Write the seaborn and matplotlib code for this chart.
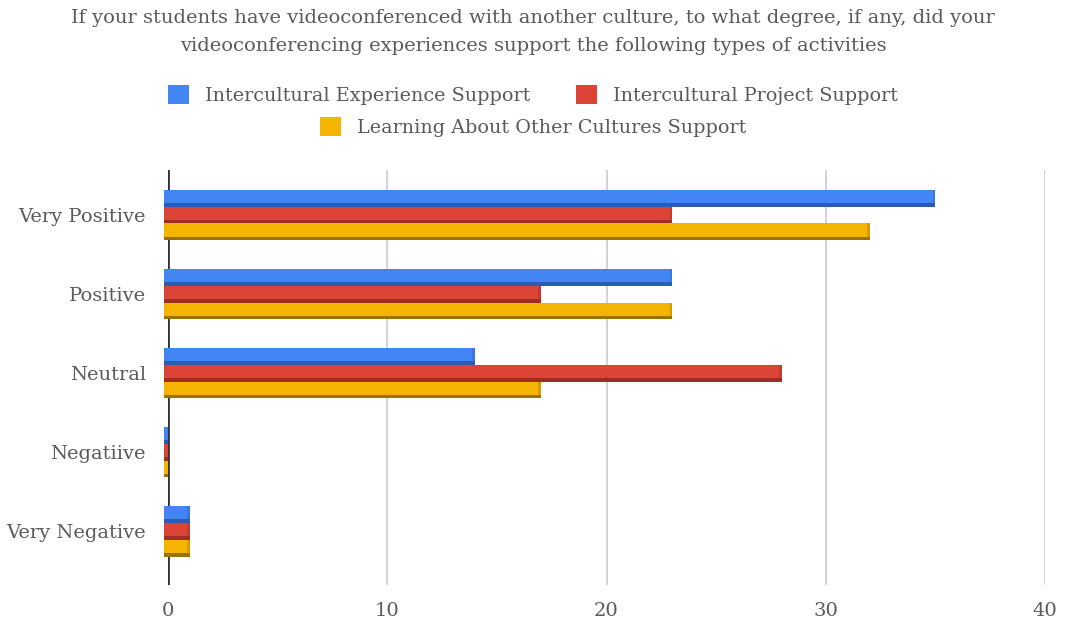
import matplotlib
matplotlib.use("Agg")
import matplotlib.pyplot as plt
from matplotlib.patches import Rectangle, Patch
import seaborn as sns
import pandas as pd

categories = ["Very Positive", "Positive", "Neutral", "Negatiive", "Very Negative"]
series_names = [
    "Intercultural Experience Support",
    "Intercultural Project Support",
    "Learning About Other Cultures Support",
]
experience = [35, 23, 14, 0, 1]
project = [23, 17, 28, 0, 1]
learning = [32, 23, 17, 0, 1]
x_ticks = [0, 10, 20, 30, 40]

colors = ["#4285F4", "#DB4437", "#F4B400"]
dark = ["#2A5CB5", "#9E2D27", "#9C7106"]

rows = []
for name, vals in zip(series_names, [experience, project, learning]):
    for cat, v in zip(categories, vals):
        rows.append({"category": cat, "series": name, "value": v})
df = pd.DataFrame(rows)

sns.set_theme(style="white")
plt.rcParams["font.family"] = ["DejaVu Serif"]
text_color = "#5a5a5a"

fig = plt.figure(figsize=(10.66, 6.25), dpi=100)
ax = fig.add_axes([168 / 1066, 1 - 585 / 625, (1045 - 168) / 1066, (585 - 170) / 625])

sns.barplot(
    data=df, y="category", x="value", hue="series", order=categories,
    hue_order=series_names, palette=colors, orient="h", width=0.64,
    saturation=1, legend=False, ax=ax, zorder=2,
)

# give every bar a shaded underside and a short depth stub behind the axis
depth = 0.2
for color, shade, container in zip(colors, dark, ax.containers):
    for bar in container:
        x0, y0 = bar.get_x(), bar.get_y()
        w, h = bar.get_width(), bar.get_height()
        bar.set_linewidth(0)
        ax.add_patch(Rectangle((x0 - depth, y0), depth, h, facecolor=color,
                               linewidth=0, zorder=2, clip_on=False))
        ax.add_patch(Rectangle((x0 - depth, y0 + h * 0.80), w + depth, h * 0.20,
                               facecolor=shade, linewidth=0, zorder=3, clip_on=False))
        if w > 0:
            ax.add_patch(Rectangle((x0 + w - 0.12, y0), 0.12, h * 0.80,
                                   facecolor=shade, alpha=0.35, linewidth=0, zorder=3))

ax.set_xlim(0, 40)
ax.set_ylim(4.68, -0.57)
ax.set_xticks(x_ticks)
ax.set_xticklabels([str(t) for t in x_ticks])
ax.set_xlabel("")
ax.set_ylabel("")
for s in ax.spines.values():
    s.set_visible(False)
ax.grid(axis="x", color="#cccccc", linewidth=1.2, zorder=0)
ax.grid(axis="y", visible=False)
ax.axvline(0, color="#333333", linewidth=2.0, zorder=1.5)
ax.tick_params(axis="both", length=0, labelsize=14, colors=text_color)
ax.tick_params(axis="x", pad=12)
ax.tick_params(axis="y", pad=16)

fig.text(0.5, 1 - 18 / 625,
         "If your students have videoconferenced with another culture, to what degree, if any, did your",
         ha="center", va="center", fontsize=14, color=text_color)
fig.text(0.5, 1 - 46 / 625,
         "videoconferencing experiences support the following types of activities",
         ha="center", va="center", fontsize=14, color=text_color)

handles = [Patch(facecolor=c, edgecolor="none") for c in colors]
leg_kw = dict(frameon=False, fontsize=13.8, labelcolor=text_color, handlelength=1.1,
              handleheight=1.1, handletextpad=0.8, columnspacing=2.4, borderaxespad=0)
fig.legend(handles[:2], series_names[:2], ncol=2, loc="center",
           bbox_to_anchor=(0.5, 1 - 95 / 625), **leg_kw)
fig.legend(handles[2:], series_names[2:], ncol=1, loc="center",
           bbox_to_anchor=(0.5, 1 - 127 / 625), **leg_kw)

fig.savefig("out.png", dpi=100)
